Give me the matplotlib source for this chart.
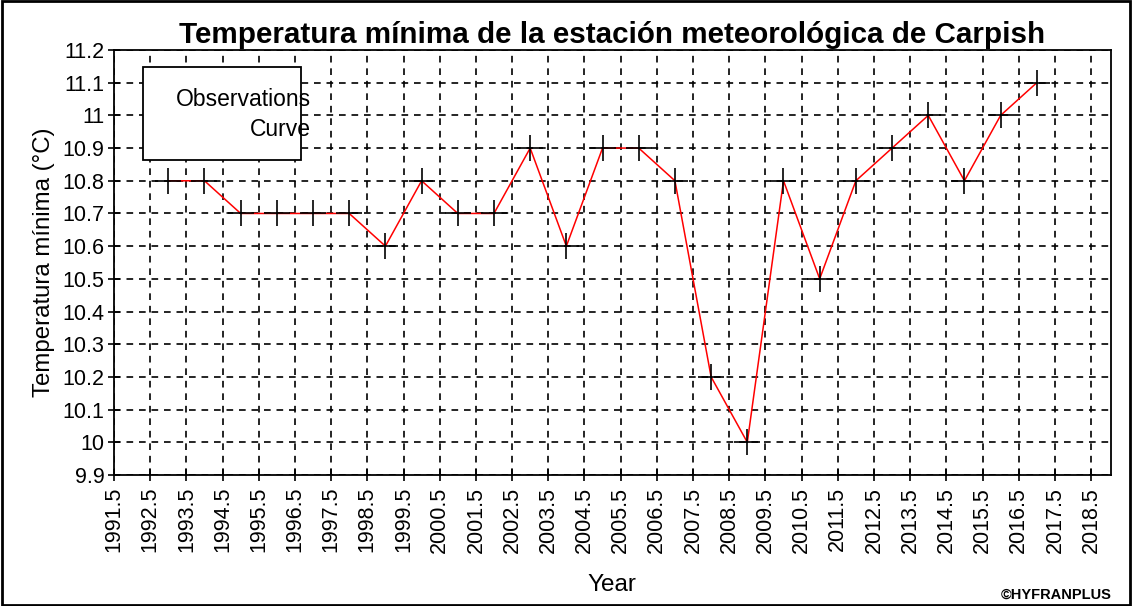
import numpy as np
import matplotlib.pyplot as plt
from matplotlib.patches import Rectangle

plt.rcParams['font.family'] = ['Liberation Sans', 'DejaVu Sans']

# Datos
years = [1993, 1994, 1995, 1996, 1997, 1998, 1999, 2000, 2001, 2002, 2003, 2004, 2005,
         2006, 2007, 2008, 2009, 2010, 2011, 2012, 2013, 2014, 2015, 2016, 2017]
tmin = [10.8, 10.8, 10.7, 10.7, 10.7, 10.7, 10.6, 10.8, 10.7, 10.7, 10.9, 10.6, 10.9,
        10.9, 10.8, 10.2, 10.0, 10.8, 10.5, 10.8, 10.9, 11.0, 10.8, 11.0, 11.1]
xticks = np.arange(1991.5, 2019.0, 1.0)
yticks = np.round(np.arange(9.9, 11.21, 0.1), 1)

fig = plt.figure(figsize=(11.32, 6.06), dpi=100)
ax = fig.add_axes([114/1132, 1 - 475/606, (1111 - 114)/1132, (475 - 50)/606])

ax.plot(years, tmin, color='red', lw=1.1, zorder=3)
ax.plot(years, tmin, ls='none', marker='+', ms=19, mew=1.2, color='black', zorder=4)

ax.set_xlim(1991.5, 2019.05)
ax.set_ylim(9.9, 11.2)
ax.set_xticks(xticks)
ax.set_xticklabels([f'{t:.1f}' for t in xticks], rotation=90, fontsize=15.5)
ax.set_yticks(yticks)
ax.set_yticklabels([f'{t:g}' for t in yticks], fontsize=15.5)
ax.tick_params(axis='x', direction='inout', length=9, width=1.2, pad=4)
ax.tick_params(axis='y', direction='inout', length=8, width=1.2, pad=3)
ax.grid(True, color='black', ls=(0, (4, 3.5)), lw=1.2)
for s in ax.spines.values():
    s.set_linewidth(1.3)

ax.set_ylabel('Temperatura mínima (°C)', fontsize=17.3, labelpad=5)
fig.text(612/1132, 1 - 585/606, 'Year', fontsize=17.5, ha='center', va='center')
ax.set_title('Temperatura mínima de la estación meteorológica de Carpish',
             fontsize=21.3, fontweight='bold', pad=5)

# cuadro de leyenda
ax.add_patch(Rectangle((143/1132, 1 - 160/606), (301 - 143)/1132, (160 - 67)/606,
                       transform=fig.transFigure, facecolor='white', edgecolor='black',
                       lw=1.3, zorder=5))
fig.text(311/1132, 1 - 100/606, 'Observations', fontsize=16.5, ha='right', va='center', zorder=6)
fig.text(311/1132, 1 - 129/606, 'Curve', fontsize=16.5, ha='right', va='center', zorder=6)

fig.text(1112/1132, 1 - 595/606, '©HYFRANPLUS', fontsize=10.5, fontweight='bold',
         ha='right', va='center')

fig.add_artist(Rectangle((0.002, 0.002), 0.996, 0.996, transform=fig.transFigure,
                         fill=False, edgecolor='black', lw=2))

fig.savefig('out.png', dpi=100)
